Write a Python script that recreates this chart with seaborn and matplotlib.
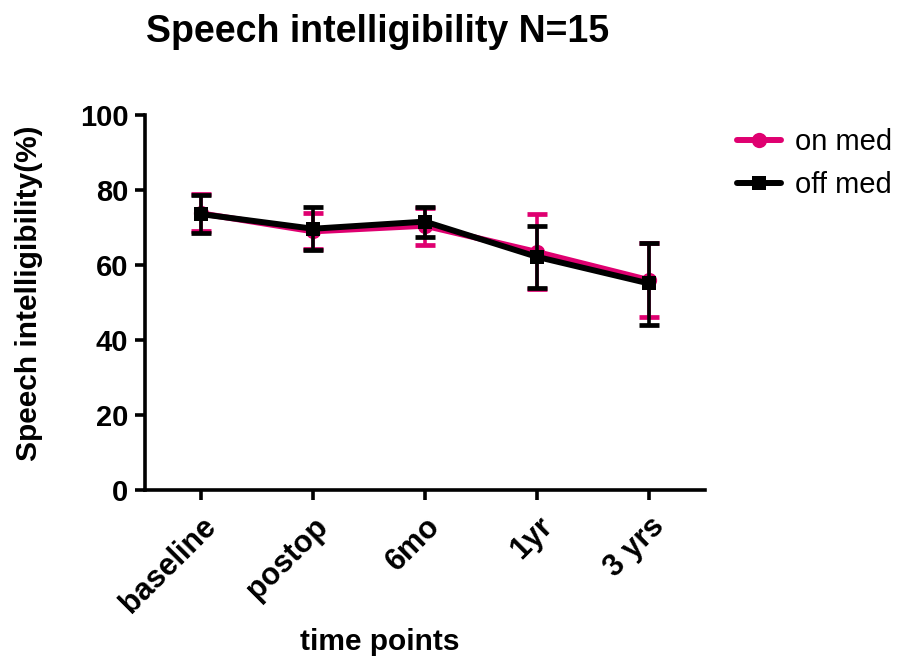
import matplotlib
matplotlib.use("Agg")
import matplotlib.pyplot as plt
import seaborn as sns
import pandas as pd
from matplotlib.lines import Line2D

# Time points and group summaries (mean with lower/upper error bounds)
time_points = ["baseline", "postop", "6mo", "1yr", "3 yrs"]

on_med_mean = [73.8, 69.0, 70.5, 63.5, 56.0]
on_med_lower = [69.1, 64.2, 65.3, 53.6, 46.2]
on_med_upper = [78.9, 73.8, 75.1, 73.6, 66.0]

off_med_mean = [73.6, 69.7, 71.6, 62.2, 55.1]
off_med_lower = [68.5, 64.0, 67.6, 53.8, 44.0]
off_med_upper = [78.7, 75.6, 75.4, 70.4, 66.0]

group_names = ["on med", "off med"]
group_colors = ["#DF0070", "#000000"]
group_markers = ["o", "s"]

sns.set_theme(style="white")
plt.rcParams["font.family"] = ["Liberation Sans", "DejaVu Sans"]
plt.rcParams["font.weight"] = "bold"
for key in ["text.color", "axes.labelcolor", "xtick.color", "ytick.color",
            "axes.edgecolor"]:
    plt.rcParams[key] = "black"

df = pd.DataFrame({
    "x": list(range(len(time_points))) * 2,
    "value": on_med_mean + off_med_mean,
    "lower": on_med_lower + off_med_lower,
    "upper": on_med_upper + off_med_upper,
    "group": [group_names[0]] * len(time_points) + [group_names[1]] * len(time_points),
})

fig = plt.figure(figsize=(8.98, 6.58), dpi=100)
ax = fig.add_axes([0.1615, 0.2553, 0.6235, 0.5697])

for name, color, marker in zip(group_names, group_colors, group_markers):
    sub = df[df["group"] == name]
    front = name == "off med"
    ax.errorbar(sub["x"], sub["value"],
                yerr=[sub["value"] - sub["lower"], sub["upper"] - sub["value"]],
                fmt="none", ecolor=color, elinewidth=2.6, capsize=7, capthick=3.4,
                zorder=4 if front else 2)
    sns.lineplot(data=sub, x="x", y="value", ax=ax, color=color, linewidth=4.3,
                 marker=marker, markersize=11 if marker == "o" else 10,
                 markeredgewidth=0, zorder=5 if front else 3,
                 legend=False)

ax.set_xlim(-0.5, 4.5)
ax.set_ylim(0, 100)
ax.set_yticks([0, 20, 40, 60, 80, 100])
ax.set_xticks(range(len(time_points)))
ax.set_xticklabels(time_points, rotation=45, ha="right", rotation_mode="anchor",
                   fontsize=22, fontweight="bold")
for lbl in ax.get_yticklabels():
    lbl.set_fontsize(21)
    lbl.set_fontweight("bold")

sns.despine(ax=ax)
for side in ["left", "bottom"]:
    ax.spines[side].set_linewidth(2.6)
ax.tick_params(axis="both", which="major", direction="out", length=7.5, width=2.6,
               bottom=True, left=True)
ax.tick_params(axis="y", pad=4.5)
ax.tick_params(axis="x", pad=8)

ax.set_xlabel("time points", fontsize=21.5, fontweight="bold")
ax.xaxis.set_label_coords(0.42, -0.368)
ax.set_ylabel("Speech intelligibility(%)", fontsize=21.5, fontweight="bold")
ax.yaxis.set_label_coords(-0.183, 0.524)
fig.suptitle("Speech intelligibility N=15", x=0.4204, y=0.979, fontsize=27,
             fontweight="bold")

handles = [
    Line2D([0], [0], color=c, linewidth=4.3, marker=m,
           markersize=11 if m == "o" else 10, markeredgewidth=0)
    for c, m in zip(group_colors, group_markers)
]
fig.legend(handles, group_names, loc="upper left",
           bbox_to_anchor=(737 / 898, 1 - 128 / 658),
           bbox_transform=fig.transFigure, frameon=False,
           prop={"size": 21, "weight": "normal"},
           borderpad=0, borderaxespad=0, handlelength=1.5,
           handletextpad=0.5, labelspacing=0.53)

fig.savefig("out.png", dpi=100)
